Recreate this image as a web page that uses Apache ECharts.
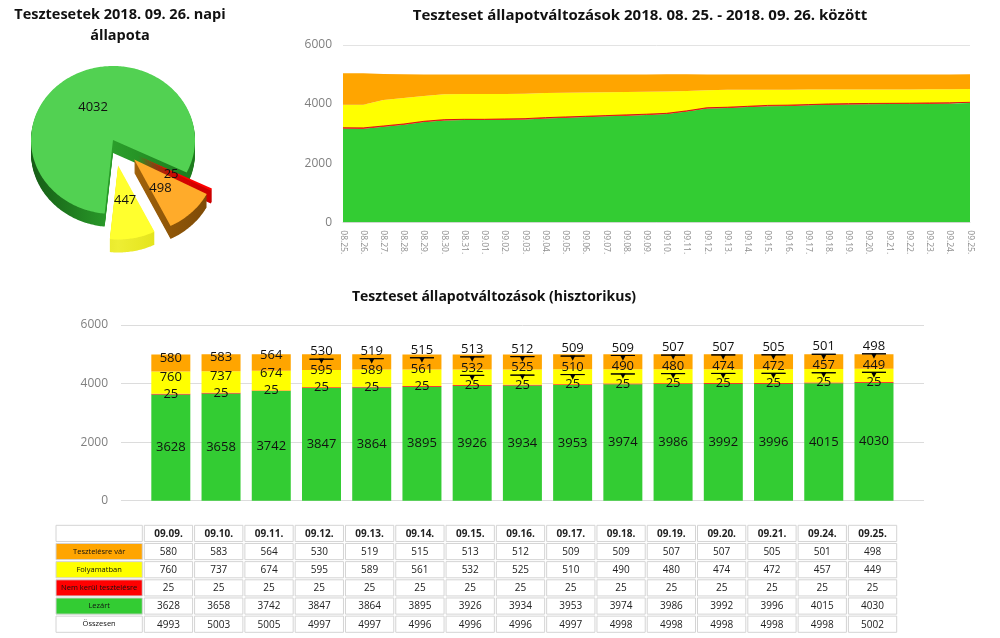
<!DOCTYPE html>
<html><head><meta charset="utf-8">
<script src="https://cdn.jsdelivr.net/npm/echarts@6/dist/echarts.min.js"></script>
<style>html,body{margin:0;padding:0;background:#fff}#c{width:1000px;height:638px}</style>
</head><body><div id="c"></div>
<script>
// ---------- DATA ----------
// Pie: state on 2018.09.26
const pieLabels = ['Lezárt', 'Nem kerül tesztelésre', 'Folyamatban', 'Tesztelésre vár'];
const pieValues = [4032, 25, 447, 498];

// Area chart: 2018.08.25 - 2018.09.25
const areaDates = ['08.25.','08.26.','08.27.','08.28.','08.29.','08.30.','08.31.','09.01.','09.02.','09.03.','09.04.','09.05.','09.06.','09.07.','09.08.','09.09.','09.10.','09.11.','09.12.','09.13.','09.14.','09.15.','09.16.','09.17.','09.18.','09.19.','09.20.','09.21.','09.22.','09.23.','09.24.','09.25.'];
const areaGreen  = [3170,3165,3230,3297,3388,3444,3456,3456,3467,3478,3512,3535,3558,3581,3605,3628,3658,3742,3847,3864,3895,3926,3934,3953,3974,3986,3992,3996,4000,4008,4015,4030];
const areaRed    = [25,25,25,25,25,25,25,25,25,25,25,25,25,25,25,25,25,25,25,25,25,25,25,25,25,25,25,25,25,25,25,25];
const areaYellow = [781,786,879,879,856,857,856,856,845,845,834,820,807,792,775,760,737,674,595,589,561,532,525,510,490,480,474,472,468,462,457,449];
const areaOrange = [1064,1059,881,804,731,674,661,661,660,650,627,617,607,598,591,580,583,564,530,519,515,513,512,509,509,507,507,505,505,503,501,498];

// Historic bars + table
const histDates  = ['09.09.','09.10.','09.11.','09.12.','09.13.','09.14.','09.15.','09.16.','09.17.','09.18.','09.19.','09.20.','09.21.','09.24.','09.25.'];
const histOrange = [580,583,564,530,519,515,513,512,509,509,507,507,505,501,498];
const histYellow = [760,737,674,595,589,561,532,525,510,490,480,474,472,457,449];
const histRed    = [25,25,25,25,25,25,25,25,25,25,25,25,25,25,25];
const histGreen  = [3628,3658,3742,3847,3864,3895,3926,3934,3953,3974,3986,3992,3996,4015,4030];
const histTotal  = [4993,5003,5005,4997,4997,4996,4996,4996,4997,4998,4998,4998,4998,4998,5002];
const rowLabels  = ['Tesztelésre vár','Folyamatban','Nem kerül tesztelésre','Lezárt','Összesen'];
const yTicks = [0, 2000, 4000, 6000];

// ---------- STYLE ----------
const FONT = '"Open Sans", "Noto Sans", sans-serif';
const C = {green:'#33cc33', red:'#ff0000', yellow:'#ffff00', orange:'#ffa500'};
const rowColors = [C.orange, C.yellow, C.red, C.green, '#ffffff'];

const chart = echarts.init(document.getElementById('c'), null, {renderer:'canvas'});

// ---------- PIE (custom, tilted 3D look) ----------
const PIE = {cx:113, cy:140, rx:82, ry:74, depth:13, start:26};
const pieOrder = [1, 3, 2, 0]; // clockwise from start: red, orange, yellow, green
const pieStyle = [
  {top:'#52d152', side:['#165c16','#2a9e2a','#1d7a1d'], explode:0,    lab:0.5},
  {top:'#ff0000', side:['#d80000','#e80000','#c80000'], explode:0.37, lab:0.45, ref:3, shift:[4,-3.5], dy:3},
  {top:'#ffff2e', side:['#cccc00','#eeee33','#d8d800'], explode:0.35, lab:0.48},
  {top:'#ffab2a', side:['#b8720c','#a0620a','#7a4806'], explode:0.37, lab:0.46, dy:4}
];
function sliceAngles(i) {
  const total = pieValues.reduce((s, v) => s + v, 0);
  let a = PIE.start, a0 = 0, a1 = 0;
  for (const k of pieOrder) {
    const span = pieValues[k] / total * 360;
    if (k === i) { a0 = a; a1 = a + span; }
    a += span;
  }
  return [a0, a1];
}
function pieRender(params, api) {
  const i = params.dataIndex;
  const [a0, a1] = sliceAngles(i);
  const st = pieStyle[i];
  const mid = (a0 + a1) / 2 * Math.PI / 180;
  const ea = st.ref !== undefined ? sliceAngles(st.ref) : [a0, a1];
  const emid = (ea[0] + ea[1]) / 2 * Math.PI / 180;
  const sh = st.shift || [0, 0];
  const ox = st.explode * PIE.rx * Math.cos(emid) + sh[0], oy = st.explode * PIE.ry * Math.sin(emid) + sh[1];
  const cx = PIE.cx + ox, cy = PIE.cy + oy;
  const pts = [[cx, cy]];
  const steps = Math.max(2, Math.ceil((a1 - a0) / 1));
  for (let s = 0; s <= steps; s++) {
    const t = (a0 + (a1 - a0) * s / steps) * Math.PI / 180;
    pts.push([cx + PIE.rx * Math.cos(t), cy + PIE.ry * Math.sin(t)]);
  }
  const grad = {type:'linear', x:cx - PIE.rx, y:0, x2:cx + PIE.rx, y2:0, global:true,
    colorStops:[{offset:0,color:st.side[0]},{offset:0.5,color:st.side[1]},{offset:1,color:st.side[2]}]};
  const children = [];
  for (let d = PIE.depth; d >= 1; d--) {
    children.push({type:'polygon', shape:{points: pts.map(p => [p[0], p[1] + d])}, style:{fill:grad}});
  }
  children.push({type:'polygon', shape:{points: pts}, style:{fill:st.top}});
  children.push({type:'text', z2:100, style:{
    text: String(pieValues[i]),
    x: cx + st.lab * PIE.rx * Math.cos(mid), y: cy + st.lab * PIE.ry * Math.sin(mid) + (st.dy || 0),
    align:'center', verticalAlign:'middle', fill:'#111', font:'13px ' + FONT}});
  return {type:'group', children};
}

// ---------- BAR LABEL LAYOUT ----------
const GAP_Y = 17, GAP_O = 18.5;
const ARROW_LIMIT = 545; // segments shorter than a label get a leader mark
function stackLabel(kind) {
  return function (p) {
    const i = p.dataIndex, r = p.rect;
    const rd = histRed[i], y = histYellow[i], o = histOrange[i];
    let textC;
    if (kind === 'yellow') {
      const k = r.height / y;
      const redC = r.y + r.height + rd * k / 2;
      textC = Math.min(r.y + r.height / 2, redC - GAP_Y);
    } else {
      const k = r.height / o;
      const yTop = r.y + r.height;
      const redC = yTop + y * k + rd * k / 2;
      const yelC = Math.min(yTop + y * k / 2, redC - GAP_Y);
      textC = Math.min(r.y + r.height / 2, yelC - GAP_O);
    }
    const v = kind === 'yellow' ? y : o;
    const blockC = v < ARROW_LIMIT ? textC + 3 : textC;
    const cur = p.labelRect.y + p.labelRect.height / 2;
    return {dy: blockC - cur};
  };
}
const stackRich = {
  v:{fontSize:13, lineHeight:15, color:'#111', fontFamily:FONT},
  hr:{width:24, height:0, borderColor:'#000', borderWidth:1},
  t:{fontSize:7, lineHeight:5, color:'#000', fontFamily:'"DejaVu Sans"'}
};
function stackFmt(p) {
  return p.value < ARROW_LIMIT ? '{v|' + p.value + '}\n{hr|}\n{t|▼}' : '{v|' + p.value + '}';
}

// ---------- TABLE ----------
const tableData = [];
for (let r = 0; r < 6; r++) for (let c = 0; c < histDates.length; c++) tableData.push([c, r]);
const tableRows = [histOrange, histYellow, histRed, histGreen, histTotal];
function tableRender(params, api) {
  const c = api.value(0), r = api.value(1);
  const pt = api.coord([c, r]), sz = api.size([1, 1]);
  const x = pt[0] - sz[0] / 2, y = pt[1] - sz[1] / 2;
  const text = r === 0 ? histDates[c] : String(tableRows[r - 1][c]);
  return {type:'group', children:[
    {type:'rect', shape:{x:x + 1, y:y + 1, width:sz[0] - 2, height:sz[1] - 2}, style:{fill:'#fff', stroke:'#d4d4d4', lineWidth:1}},
    {type:'text', style:{text, x:pt[0], y:pt[1] + 0.5, align:'center', verticalAlign:'middle', fill:'#222',
      font:(r === 0 ? 'bold ' : '') + '10px ' + FONT}}
  ]};
}
const headData = [];
for (let r = 0; r < 6; r++) headData.push([0, r]);
function headRender(params, api) {
  const r = api.value(1);
  const pt = api.coord([0, r]), sz = api.size([1, 1]);
  const x = pt[0] - sz[0] / 2, y = pt[1] - sz[1] / 2;
  const ch = [{type:'rect', shape:{x:x + 1, y:y + 1, width:sz[0] - 2, height:sz[1] - 2},
    style:{fill: r === 0 ? '#fff' : rowColors[r - 1], stroke:'#d4d4d4', lineWidth:1}}];
  if (r > 0) ch.push({type:'text', style:{text:rowLabels[r - 1], x:pt[0], y:pt[1], align:'center', verticalAlign:'middle',
    fill:'#111', font:'7.5px ' + FONT}});
  return {type:'group', children:ch};
}

const rowKeys = ['h','r1','r2','r3','r4','r5'];
const axisLbl = {color:'#7f7f7f', fontSize:12, fontFamily:FONT, formatter: v => String(v)};

const option = {
  animation:false,
  graphic:[
    {type:'text', x:120, y:15, style:{text:'Tesztesetek 2018. 09. 26. napi', align:'center', verticalAlign:'middle', font:'bold 14.5px ' + FONT, fill:'#111'}},
    {type:'text', x:120, y:36, style:{text:'állapota', align:'center', verticalAlign:'middle', font:'bold 14.5px ' + FONT, fill:'#111'}},
    {type:'text', x:640, y:16, style:{text:'Teszteset állapotváltozások 2018. 08. 25. - 2018. 09. 26. között', align:'center', verticalAlign:'middle', font:'bold 15px ' + FONT, fill:'#111'}},
    {type:'text', x:494, y:297, style:{text:'Teszteset állapotváltozások (hisztorikus)', align:'center', verticalAlign:'middle', font:'bold 14px ' + FONT, fill:'#111'}}
  ],
  grid:[
    {left:343, top:44.8, width:627, height:177.5},
    {left:121, top:325, width:803, height:175.7},
    {left:145.7, top:325, width:753.4, height:175.7},
    {left:143.3, top:524.3, width:754.4, height:109},
    {left:55, top:524.3, width:88.3, height:109}
  ],
  xAxis:[
    {type:'category', gridIndex:0, data:areaDates, boundaryGap:false,
      axisLine:{lineStyle:{color:'#d9d9d9'}}, axisTick:{show:false},
      axisLabel:{rotate:-90, interval:0, fontSize:8.5, color:'#8c8c8c', fontFamily:FONT, margin:8}},
    {type:'category', gridIndex:1, data:histDates, show:false},
    {type:'category', gridIndex:2, data:histDates, show:false},
    {type:'category', gridIndex:3, data:histDates, show:false},
    {type:'category', gridIndex:4, data:['x'], show:false}
  ],
  yAxis:[
    {type:'value', gridIndex:0, min:yTicks[0], max:yTicks[3], interval:yTicks[1],
      axisLabel:Object.assign({margin:11}, axisLbl), axisLine:{show:false}, axisTick:{show:false},
      splitLine:{lineStyle:{color:'#e3e3e3'}}},
    {type:'value', gridIndex:1, min:yTicks[0], max:yTicks[3], interval:yTicks[1],
      axisLabel:Object.assign({margin:13}, axisLbl), axisLine:{show:false}, axisTick:{show:false},
      splitLine:{lineStyle:{color:'#dcdcdc'}}},
    {type:'value', gridIndex:2, min:yTicks[0], max:yTicks[3], show:false, splitLine:{show:false}},
    {type:'category', gridIndex:3, data:rowKeys, inverse:true, show:false},
    {type:'category', gridIndex:4, data:rowKeys, inverse:true, show:false}
  ],
  series:[
    {type:'custom', coordinateSystem:'none', data:pieValues, renderItem:pieRender, silent:true},

    {type:'line', name:rowLabels[3], xAxisIndex:0, yAxisIndex:0, stack:'a', data:areaGreen, showSymbol:false,
      lineStyle:{width:0}, areaStyle:{color:C.green, opacity:1}},
    {type:'line', name:rowLabels[2], xAxisIndex:0, yAxisIndex:0, stack:'a', data:areaRed, showSymbol:false,
      lineStyle:{width:1, color:'#d81010'}, areaStyle:{color:C.red, opacity:1}},
    {type:'line', name:rowLabels[1], xAxisIndex:0, yAxisIndex:0, stack:'a', data:areaYellow, showSymbol:false,
      lineStyle:{width:0}, areaStyle:{color:C.yellow, opacity:1}},
    {type:'line', name:rowLabels[0], xAxisIndex:0, yAxisIndex:0, stack:'a', data:areaOrange, showSymbol:false,
      lineStyle:{width:0}, areaStyle:{color:C.orange, opacity:1}},

    {type:'bar', name:rowLabels[3], xAxisIndex:2, yAxisIndex:2, stack:'b', data:histGreen, barWidth:39,
      itemStyle:{color:C.green},
      label:{show:true, position:'inside', color:'#111', fontSize:13, fontFamily:FONT}},
    {type:'bar', name:rowLabels[2], xAxisIndex:2, yAxisIndex:2, stack:'b', data:histRed, barWidth:39,
      itemStyle:{color:C.red},
      label:{show:true, position:'inside', color:'#111', fontSize:13, fontFamily:FONT}},
    {type:'bar', name:rowLabels[1], xAxisIndex:2, yAxisIndex:2, stack:'b', data:histYellow, barWidth:39,
      itemStyle:{color:C.yellow},
      label:{show:true, position:'inside', formatter:stackFmt, rich:stackRich},
      labelLayout:stackLabel('yellow')},
    {type:'bar', name:rowLabels[0], xAxisIndex:2, yAxisIndex:2, stack:'b', data:histOrange, barWidth:39,
      itemStyle:{color:C.orange},
      label:{show:true, position:'inside', formatter:stackFmt, rich:stackRich},
      labelLayout:stackLabel('orange')},

    {type:'custom', xAxisIndex:3, yAxisIndex:3, data:tableData, renderItem:tableRender, silent:true},
    {type:'custom', xAxisIndex:4, yAxisIndex:4, data:headData, renderItem:headRender, silent:true}
  ]
};
chart.setOption(option);
</script></body></html>
